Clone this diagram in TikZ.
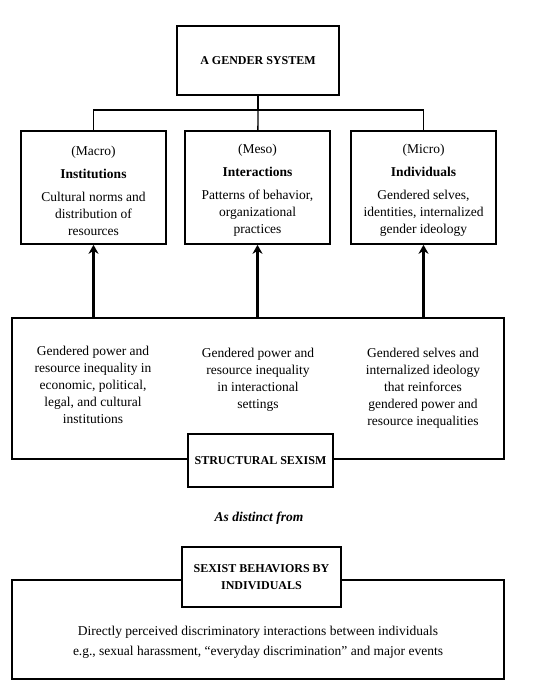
\documentclass[tikz,border=0pt]{standalone}
\usepackage{fontspec}
\setmainfont{Liberation Serif}
\usetikzlibrary{positioning, arrows.meta, calc}

\begin{document}
\begin{tikzpicture}[
    x=1pt, y=-1pt,
    every node/.style={font=\fontsize{13.5}{17}\selectfont, align=center},
    box/.style={draw, line width=1.6pt, inner sep=2pt},
    titlebox/.style={box, fill=white, font=\fontsize{12}{17}\selectfont\bfseries},
    plain/.style={inner sep=0pt},
    link/.style={line width=1.3pt},
    uparrow/.style={-{Stealth[length=9pt, width=10pt]}, line width=3.2pt}
]

% Frame
\useasboundingbox (0,0) rectangle (542,686);

% Gender system
\node[titlebox, minimum width=162, minimum height=69] (gender) at (258, 60.5) {A GENDER SYSTEM};

% Levels
\node[box, minimum width=145, minimum height=113] (macro) at (93.5, 187.5) {};
\node[box, minimum width=145, minimum height=113] (meso) at (257.5, 187.5) {};
\node[box, minimum width=145, minimum height=113] (micro) at (423.5, 187.5) {};

\node[plain] (macrotxt) at (93.5, 190.5) {(Macro)\\[6pt] \textbf{Institutions}\\[6pt] Cultural norms and\\ distribution of\\ resources};
\node[plain] (mesotxt) at (257.5, 190.5) {(Meso)\\[6pt] \textbf{Interactions}\\[6pt] Patterns of behavior,\\ organizational\\ practices};
\node[plain] (microtxt) at (423.5, 190.5) {(Micro)\\[6pt] \textbf{Individuals}\\[6pt] Gendered selves,\\ identities, internalized\\ gender ideology};

% Tree lines
\coordinate (split) at (258, 110);
\draw[link] (gender) -- (split);
\draw[link] (split) -| (macro);
\draw[link] (split) -| (micro);
\draw[link] (split) -- (meso);

% Structural sexism
\node[box, minimum width=492, minimum height=141] (structure) at (258, 388.5) {};
\node[plain] (insttxt) at (93, 384.5) {Gendered power and\\ resource inequality in\\ economic, political,\\ legal, and cultural\\ institutions};
\node[plain] (interttxt) at (258, 380) {Gendered power and\\ resource inequality\\ in interactional\\ settings};
\node[plain] (selftxt) at (423, 388) {Gendered selves and\\ internalized ideology\\ that reinforces\\ gendered power and\\ resource inequalities};
\node[titlebox, minimum width=145, minimum height=53] (structural) at (260.5, 460.5) {STRUCTURAL SEXISM};

% Arrows up
\draw[uparrow] (macro.south |- structure.north) -- (macro.south);
\draw[uparrow] (meso.south |- structure.north) -- (meso.south);
\draw[uparrow] (micro.south |- structure.north) -- (micro.south);

% Separator
\node[plain, font=\fontsize{13.5}{17}\selectfont\bfseries\itshape] (distinct) at (259, 518) {As distinct from};

% Sexist behaviors
\node[box, minimum width=492, minimum height=99] (behavior) at (258, 629.5) {};
\node[plain, font=\fontsize{13.5}{20}\selectfont] (behavtxt) at (258, 642) {Directly perceived discriminatory interactions between individuals\\ e.g., sexual harassment, “everyday discrimination” and major events};
\node[titlebox, minimum width=159, minimum height=60] (sexist) at (261.5, 577) {SEXIST BEHAVIORS BY\\ INDIVIDUALS};

\end{tikzpicture}
\end{document}
